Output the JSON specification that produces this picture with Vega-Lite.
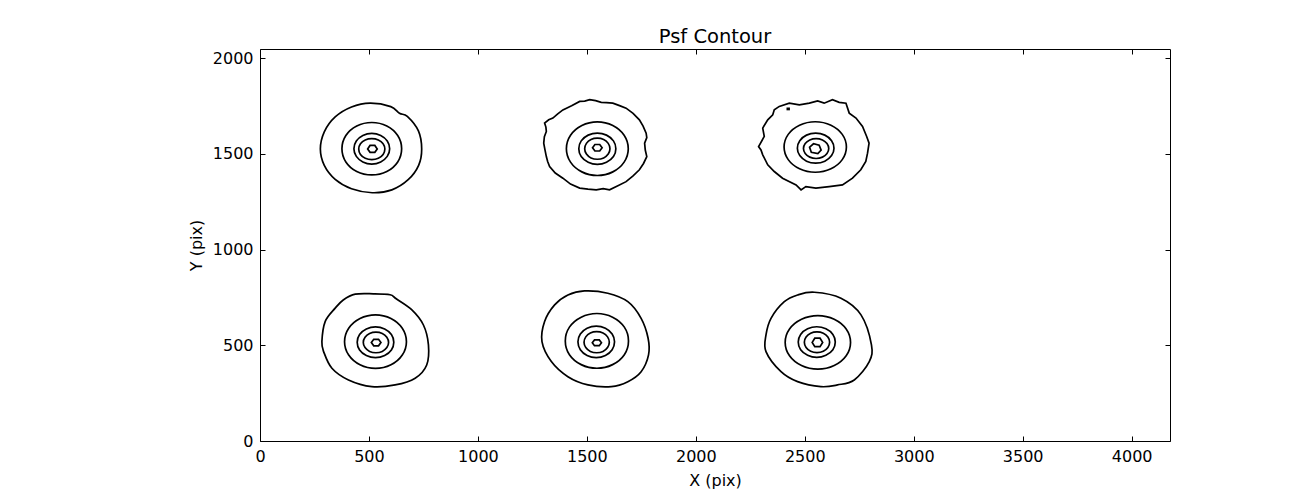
{
"$schema": "https://vega.github.io/schema/vega-lite/v6.json",
"autosize": "none",
"width": 910,
"height": 392,
"padding": {"left": 260, "top": 49, "right": 130, "bottom": 49},
"background": "white",
"title": {"text": "Psf Contour", "fontSize": 19.5, "font": "DejaVu Sans", "fontWeight": "normal", "color": "black", "offset": 1, "anchor": "middle", "frame": "group"},
"config": {
  "view": {"stroke": "black", "strokeWidth": 1},
  "axis": {"domain": false, "grid": false, "tickColor": "black", "tickSize": -5, "tickWidth": 1, "labelFlush": false, "labelFont": "DejaVu Sans", "labelFontSize": 16, "labelColor": "black", "titleFont": "DejaVu Sans", "titleFontSize": 16, "titleFontWeight": "normal", "titleColor": "black", "format": "d"}
},
"data": {"values": [
{"c":"a1","k":"s","i":0,"x":742,"y":1525},{"c":"a1","k":"s","i":1,"x":727,"y":1620},{"c":"a1","k":"s","i":2,"x":676,"y":1696},{"c":"a1","k":"s","i":3,"x":640,"y":1712},{"c":"a1","k":"s","i":4,"x":600,"y":1747},{"c":"a1","k":"s","i":5,"x":505,"y":1765},{"c":"a1","k":"s","i":6,"x":420,"y":1745},{"c":"a1","k":"s","i":7,"x":345,"y":1693},{"c":"a1","k":"s","i":8,"x":295,"y":1615},{"c":"a1","k":"s","i":9,"x":277,"y":1525},{"c":"a1","k":"s","i":10,"x":295,"y":1440},{"c":"a1","k":"s","i":11,"x":345,"y":1367},{"c":"a1","k":"s","i":12,"x":420,"y":1318},{"c":"a1","k":"s","i":13,"x":515,"y":1297},{"c":"a1","k":"s","i":14,"x":605,"y":1312},{"c":"a1","k":"s","i":15,"x":680,"y":1365},{"c":"a1","k":"s","i":16,"x":728,"y":1440},
{"c":"a2","k":"s","i":0,"x":650,"y":1527},{"c":"a2","k":"s","i":1,"x":632,"y":1596},{"c":"a2","k":"s","i":2,"x":582,"y":1646},{"c":"a2","k":"s","i":3,"x":513,"y":1664},{"c":"a2","k":"s","i":4,"x":444,"y":1646},{"c":"a2","k":"s","i":5,"x":394,"y":1596},{"c":"a2","k":"s","i":6,"x":376,"y":1527},{"c":"a2","k":"s","i":7,"x":394,"y":1458},{"c":"a2","k":"s","i":8,"x":444,"y":1408},{"c":"a2","k":"s","i":9,"x":513,"y":1390},{"c":"a2","k":"s","i":10,"x":582,"y":1408},{"c":"a2","k":"s","i":11,"x":632,"y":1458},
{"c":"a3","k":"s","i":0,"x":595,"y":1527},{"c":"a3","k":"s","i":1,"x":584,"y":1567},{"c":"a3","k":"s","i":2,"x":554,"y":1596},{"c":"a3","k":"s","i":3,"x":513,"y":1607},{"c":"a3","k":"s","i":4,"x":472,"y":1596},{"c":"a3","k":"s","i":5,"x":442,"y":1567},{"c":"a3","k":"s","i":6,"x":431,"y":1527},{"c":"a3","k":"s","i":7,"x":442,"y":1487},{"c":"a3","k":"s","i":8,"x":472,"y":1458},{"c":"a3","k":"s","i":9,"x":513,"y":1447},{"c":"a3","k":"s","i":10,"x":554,"y":1458},{"c":"a3","k":"s","i":11,"x":584,"y":1487},
{"c":"a4","k":"s","i":0,"x":573,"y":1525},{"c":"a4","k":"s","i":1,"x":565,"y":1553},{"c":"a4","k":"s","i":2,"x":543,"y":1573},{"c":"a4","k":"s","i":3,"x":513,"y":1580},{"c":"a4","k":"s","i":4,"x":483,"y":1573},{"c":"a4","k":"s","i":5,"x":461,"y":1553},{"c":"a4","k":"s","i":6,"x":453,"y":1525},{"c":"a4","k":"s","i":7,"x":461,"y":1497},{"c":"a4","k":"s","i":8,"x":483,"y":1477},{"c":"a4","k":"s","i":9,"x":513,"y":1470},{"c":"a4","k":"s","i":10,"x":543,"y":1477},{"c":"a4","k":"s","i":11,"x":565,"y":1497},
{"c":"a5","k":"r","i":0,"x":538,"y":1526},{"c":"a5","k":"r","i":1,"x":527,"y":1544},{"c":"a5","k":"r","i":2,"x":505,"y":1544},{"c":"a5","k":"r","i":3,"x":494,"y":1526},{"c":"a5","k":"r","i":4,"x":505,"y":1508},{"c":"a5","k":"r","i":5,"x":527,"y":1508},
{"c":"b1","k":"r","i":0,"x":1775,"y":1486},{"c":"b1","k":"r","i":1,"x":1768,"y":1520},{"c":"b1","k":"r","i":2,"x":1765,"y":1556},{"c":"b1","k":"r","i":3,"x":1775,"y":1585},{"c":"b1","k":"r","i":4,"x":1772,"y":1608},{"c":"b1","k":"r","i":5,"x":1758,"y":1645},{"c":"b1","k":"r","i":6,"x":1741,"y":1678},{"c":"b1","k":"r","i":7,"x":1712,"y":1712},{"c":"b1","k":"r","i":8,"x":1680,"y":1739},{"c":"b1","k":"r","i":9,"x":1650,"y":1752},{"c":"b1","k":"r","i":10,"x":1619,"y":1765},{"c":"b1","k":"r","i":11,"x":1590,"y":1768},{"c":"b1","k":"r","i":12,"x":1566,"y":1769},{"c":"b1","k":"r","i":13,"x":1540,"y":1778},{"c":"b1","k":"r","i":14,"x":1513,"y":1783},{"c":"b1","k":"r","i":15,"x":1490,"y":1776},{"c":"b1","k":"r","i":16,"x":1467,"y":1774},{"c":"b1","k":"r","i":17,"x":1430,"y":1752},{"c":"b1","k":"r","i":18,"x":1390,"y":1730},{"c":"b1","k":"r","i":19,"x":1365,"y":1708},{"c":"b1","k":"r","i":20,"x":1344,"y":1687},{"c":"b1","k":"r","i":21,"x":1325,"y":1678},{"c":"b1","k":"r","i":22,"x":1306,"y":1661},{"c":"b1","k":"r","i":23,"x":1312,"y":1640},{"c":"b1","k":"r","i":24,"x":1314,"y":1617},{"c":"b1","k":"r","i":25,"x":1305,"y":1590},{"c":"b1","k":"r","i":26,"x":1302,"y":1556},{"c":"b1","k":"r","i":27,"x":1308,"y":1520},{"c":"b1","k":"r","i":28,"x":1314,"y":1486},{"c":"b1","k":"r","i":29,"x":1320,"y":1460},{"c":"b1","k":"r","i":30,"x":1329,"y":1434},{"c":"b1","k":"r","i":31,"x":1355,"y":1400},{"c":"b1","k":"r","i":32,"x":1390,"y":1373},{"c":"b1","k":"r","i":33,"x":1425,"y":1342},{"c":"b1","k":"r","i":34,"x":1467,"y":1321},{"c":"b1","k":"r","i":35,"x":1505,"y":1316},{"c":"b1","k":"r","i":36,"x":1543,"y":1312},{"c":"b1","k":"r","i":37,"x":1575,"y":1318},{"c":"b1","k":"r","i":38,"x":1604,"y":1312},{"c":"b1","k":"r","i":39,"x":1640,"y":1332},{"c":"b1","k":"r","i":40,"x":1680,"y":1355},{"c":"b1","k":"r","i":41,"x":1712,"y":1385},{"c":"b1","k":"r","i":42,"x":1741,"y":1417},{"c":"b1","k":"r","i":43,"x":1760,"y":1450},
{"c":"b2","k":"s","i":0,"x":1690,"y":1527},{"c":"b2","k":"s","i":1,"x":1671,"y":1597},{"c":"b2","k":"s","i":2,"x":1619,"y":1648},{"c":"b2","k":"s","i":3,"x":1548,"y":1667},{"c":"b2","k":"s","i":4,"x":1477,"y":1648},{"c":"b2","k":"s","i":5,"x":1425,"y":1597},{"c":"b2","k":"s","i":6,"x":1406,"y":1527},{"c":"b2","k":"s","i":7,"x":1425,"y":1457},{"c":"b2","k":"s","i":8,"x":1477,"y":1406},{"c":"b2","k":"s","i":9,"x":1548,"y":1387},{"c":"b2","k":"s","i":10,"x":1619,"y":1406},{"c":"b2","k":"s","i":11,"x":1671,"y":1457},
{"c":"b3","k":"s","i":0,"x":1633,"y":1527},{"c":"b3","k":"s","i":1,"x":1622,"y":1568},{"c":"b3","k":"s","i":2,"x":1590,"y":1598},{"c":"b3","k":"s","i":3,"x":1548,"y":1609},{"c":"b3","k":"s","i":4,"x":1506,"y":1598},{"c":"b3","k":"s","i":5,"x":1474,"y":1568},{"c":"b3","k":"s","i":6,"x":1463,"y":1527},{"c":"b3","k":"s","i":7,"x":1474,"y":1486},{"c":"b3","k":"s","i":8,"x":1506,"y":1456},{"c":"b3","k":"s","i":9,"x":1548,"y":1445},{"c":"b3","k":"s","i":10,"x":1590,"y":1456},{"c":"b3","k":"s","i":11,"x":1622,"y":1486},
{"c":"b4","k":"s","i":0,"x":1606,"y":1527},{"c":"b4","k":"s","i":1,"x":1598,"y":1555},{"c":"b4","k":"s","i":2,"x":1577,"y":1575},{"c":"b4","k":"s","i":3,"x":1548,"y":1582},{"c":"b4","k":"s","i":4,"x":1519,"y":1575},{"c":"b4","k":"s","i":5,"x":1498,"y":1555},{"c":"b4","k":"s","i":6,"x":1490,"y":1527},{"c":"b4","k":"s","i":7,"x":1498,"y":1499},{"c":"b4","k":"s","i":8,"x":1519,"y":1479},{"c":"b4","k":"s","i":9,"x":1548,"y":1472},{"c":"b4","k":"s","i":10,"x":1577,"y":1479},{"c":"b4","k":"s","i":11,"x":1598,"y":1499},
{"c":"b5","k":"r","i":0,"x":1570,"y":1532},{"c":"b5","k":"r","i":1,"x":1559,"y":1549},{"c":"b5","k":"r","i":2,"x":1537,"y":1549},{"c":"b5","k":"r","i":3,"x":1526,"y":1532},{"c":"b5","k":"r","i":4,"x":1537,"y":1515},{"c":"b5","k":"r","i":5,"x":1559,"y":1515},
{"c":"c1","k":"r","i":0,"x":2288,"y":1538},{"c":"c1","k":"r","i":1,"x":2314,"y":1591},{"c":"c1","k":"r","i":2,"x":2307,"y":1635},{"c":"c1","k":"r","i":3,"x":2330,"y":1678},{"c":"c1","k":"r","i":4,"x":2353,"y":1704},{"c":"c1","k":"r","i":5,"x":2360,"y":1730},{"c":"c1","k":"r","i":6,"x":2383,"y":1748},{"c":"c1","k":"r","i":7,"x":2429,"y":1765},{"c":"c1","k":"r","i":8,"x":2475,"y":1756},{"c":"c1","k":"r","i":9,"x":2521,"y":1765},{"c":"c1","k":"r","i":10,"x":2559,"y":1777},{"c":"c1","k":"r","i":11,"x":2589,"y":1765},{"c":"c1","k":"r","i":12,"x":2627,"y":1783},{"c":"c1","k":"r","i":13,"x":2658,"y":1769},{"c":"c1","k":"r","i":14,"x":2689,"y":1765},{"c":"c1","k":"r","i":15,"x":2704,"y":1713},{"c":"c1","k":"r","i":16,"x":2735,"y":1687},{"c":"c1","k":"r","i":17,"x":2765,"y":1643},{"c":"c1","k":"r","i":18,"x":2784,"y":1591},{"c":"c1","k":"r","i":19,"x":2795,"y":1556},{"c":"c1","k":"r","i":20,"x":2788,"y":1504},{"c":"c1","k":"r","i":21,"x":2780,"y":1460},{"c":"c1","k":"r","i":22,"x":2757,"y":1417},{"c":"c1","k":"r","i":23,"x":2719,"y":1373},{"c":"c1","k":"r","i":24,"x":2673,"y":1338},{"c":"c1","k":"r","i":25,"x":2612,"y":1329},{"c":"c1","k":"r","i":26,"x":2551,"y":1321},{"c":"c1","k":"r","i":27,"x":2505,"y":1329},{"c":"c1","k":"r","i":28,"x":2483,"y":1312},{"c":"c1","k":"r","i":29,"x":2460,"y":1338},{"c":"c1","k":"r","i":30,"x":2398,"y":1373},{"c":"c1","k":"r","i":31,"x":2360,"y":1408},{"c":"c1","k":"r","i":32,"x":2330,"y":1443},{"c":"c1","k":"r","i":33,"x":2307,"y":1495},{"c":"c1","k":"r","i":34,"x":2299,"y":1521},
{"c":"c2","k":"s","i":0,"x":2691,"y":1536},{"c":"c2","k":"s","i":1,"x":2672,"y":1602},{"c":"c2","k":"s","i":2,"x":2620,"y":1650},{"c":"c2","k":"s","i":3,"x":2548,"y":1668},{"c":"c2","k":"s","i":4,"x":2476,"y":1650},{"c":"c2","k":"s","i":5,"x":2424,"y":1602},{"c":"c2","k":"s","i":6,"x":2405,"y":1536},{"c":"c2","k":"s","i":7,"x":2424,"y":1470},{"c":"c2","k":"s","i":8,"x":2476,"y":1422},{"c":"c2","k":"s","i":9,"x":2548,"y":1404},{"c":"c2","k":"s","i":10,"x":2620,"y":1422},{"c":"c2","k":"s","i":11,"x":2672,"y":1470},
{"c":"c3","k":"s","i":0,"x":2634,"y":1530},{"c":"c3","k":"s","i":1,"x":2623,"y":1569},{"c":"c3","k":"s","i":2,"x":2592,"y":1598},{"c":"c3","k":"s","i":3,"x":2550,"y":1608},{"c":"c3","k":"s","i":4,"x":2508,"y":1598},{"c":"c3","k":"s","i":5,"x":2477,"y":1569},{"c":"c3","k":"s","i":6,"x":2466,"y":1530},{"c":"c3","k":"s","i":7,"x":2477,"y":1491},{"c":"c3","k":"s","i":8,"x":2508,"y":1462},{"c":"c3","k":"s","i":9,"x":2550,"y":1452},{"c":"c3","k":"s","i":10,"x":2592,"y":1462},{"c":"c3","k":"s","i":11,"x":2623,"y":1491},
{"c":"c4","k":"s","i":0,"x":2610,"y":1528},{"c":"c4","k":"s","i":1,"x":2602,"y":1554},{"c":"c4","k":"s","i":2,"x":2581,"y":1573},{"c":"c4","k":"s","i":3,"x":2552,"y":1580},{"c":"c4","k":"s","i":4,"x":2523,"y":1573},{"c":"c4","k":"s","i":5,"x":2502,"y":1554},{"c":"c4","k":"s","i":6,"x":2494,"y":1528},{"c":"c4","k":"s","i":7,"x":2502,"y":1502},{"c":"c4","k":"s","i":8,"x":2523,"y":1483},{"c":"c4","k":"s","i":9,"x":2552,"y":1476},{"c":"c4","k":"s","i":10,"x":2581,"y":1483},{"c":"c4","k":"s","i":11,"x":2602,"y":1502},
{"c":"c5","k":"r","i":0,"x":2575,"y":1520},{"c":"c5","k":"r","i":1,"x":2566,"y":1545},{"c":"c5","k":"r","i":2,"x":2540,"y":1553},{"c":"c5","k":"r","i":3,"x":2522,"y":1535},{"c":"c5","k":"r","i":4,"x":2530,"y":1508},{"c":"c5","k":"r","i":5,"x":2560,"y":1502},
{"c":"c6","k":"r","i":0,"x":2420,"y":1732},{"c":"c6","k":"r","i":1,"x":2428,"y":1732},{"c":"c6","k":"r","i":2,"x":2428,"y":1738},{"c":"c6","k":"r","i":3,"x":2420,"y":1738},
{"c":"d1","k":"s","i":0,"x":773,"y":502},{"c":"d1","k":"s","i":1,"x":750,"y":606},{"c":"d1","k":"s","i":2,"x":697,"y":685},{"c":"d1","k":"s","i":3,"x":625,"y":743},{"c":"d1","k":"s","i":4,"x":597,"y":764},{"c":"d1","k":"s","i":5,"x":520,"y":769},{"c":"d1","k":"s","i":6,"x":437,"y":767},{"c":"d1","k":"s","i":7,"x":382,"y":737},{"c":"d1","k":"s","i":8,"x":345,"y":694},{"c":"d1","k":"s","i":9,"x":299,"y":624},{"c":"d1","k":"s","i":10,"x":284,"y":519},{"c":"d1","k":"s","i":11,"x":292,"y":467},{"c":"d1","k":"s","i":12,"x":330,"y":380},{"c":"d1","k":"s","i":13,"x":406,"y":319},{"c":"d1","k":"s","i":14,"x":513,"y":284},{"c":"d1","k":"s","i":15,"x":620,"y":293},{"c":"d1","k":"s","i":16,"x":712,"y":328},{"c":"d1","k":"s","i":17,"x":765,"y":397},
{"c":"d2","k":"s","i":0,"x":672,"y":519},{"c":"d2","k":"s","i":1,"x":653,"y":589},{"c":"d2","k":"s","i":2,"x":601,"y":640},{"c":"d2","k":"s","i":3,"x":530,"y":659},{"c":"d2","k":"s","i":4,"x":459,"y":640},{"c":"d2","k":"s","i":5,"x":407,"y":589},{"c":"d2","k":"s","i":6,"x":388,"y":519},{"c":"d2","k":"s","i":7,"x":407,"y":449},{"c":"d2","k":"s","i":8,"x":459,"y":398},{"c":"d2","k":"s","i":9,"x":530,"y":379},{"c":"d2","k":"s","i":10,"x":601,"y":398},{"c":"d2","k":"s","i":11,"x":653,"y":449},
{"c":"d3","k":"s","i":0,"x":614,"y":516},{"c":"d3","k":"s","i":1,"x":603,"y":556},{"c":"d3","k":"s","i":2,"x":572,"y":585},{"c":"d3","k":"s","i":3,"x":530,"y":596},{"c":"d3","k":"s","i":4,"x":488,"y":585},{"c":"d3","k":"s","i":5,"x":457,"y":556},{"c":"d3","k":"s","i":6,"x":446,"y":516},{"c":"d3","k":"s","i":7,"x":457,"y":476},{"c":"d3","k":"s","i":8,"x":488,"y":447},{"c":"d3","k":"s","i":9,"x":530,"y":436},{"c":"d3","k":"s","i":10,"x":572,"y":447},{"c":"d3","k":"s","i":11,"x":603,"y":476},
{"c":"d4","k":"s","i":0,"x":590,"y":515},{"c":"d4","k":"s","i":1,"x":582,"y":542},{"c":"d4","k":"s","i":2,"x":561,"y":562},{"c":"d4","k":"s","i":3,"x":532,"y":569},{"c":"d4","k":"s","i":4,"x":503,"y":562},{"c":"d4","k":"s","i":5,"x":482,"y":542},{"c":"d4","k":"s","i":6,"x":474,"y":515},{"c":"d4","k":"s","i":7,"x":482,"y":488},{"c":"d4","k":"s","i":8,"x":503,"y":468},{"c":"d4","k":"s","i":9,"x":532,"y":461},{"c":"d4","k":"s","i":10,"x":561,"y":468},{"c":"d4","k":"s","i":11,"x":582,"y":488},
{"c":"d5","k":"r","i":0,"x":555,"y":514},{"c":"d5","k":"r","i":1,"x":544,"y":531},{"c":"d5","k":"r","i":2,"x":522,"y":531},{"c":"d5","k":"r","i":3,"x":511,"y":514},{"c":"d5","k":"r","i":4,"x":522,"y":497},{"c":"d5","k":"r","i":5,"x":544,"y":497},
{"c":"e1","k":"s","i":0,"x":1783,"y":450},{"c":"e1","k":"s","i":1,"x":1781,"y":537},{"c":"e1","k":"s","i":2,"x":1749,"y":641},{"c":"e1","k":"s","i":3,"x":1688,"y":728},{"c":"e1","k":"s","i":4,"x":1596,"y":772},{"c":"e1","k":"s","i":5,"x":1489,"y":784},{"c":"e1","k":"s","i":6,"x":1413,"y":763},{"c":"e1","k":"s","i":7,"x":1352,"y":711},{"c":"e1","k":"s","i":8,"x":1306,"y":624},{"c":"e1","k":"s","i":9,"x":1294,"y":519},{"c":"e1","k":"s","i":10,"x":1337,"y":415},{"c":"e1","k":"s","i":11,"x":1413,"y":336},{"c":"e1","k":"s","i":12,"x":1505,"y":293},{"c":"e1","k":"s","i":13,"x":1612,"y":284},{"c":"e1","k":"s","i":14,"x":1688,"y":310},{"c":"e1","k":"s","i":15,"x":1749,"y":362},
{"c":"e2","k":"s","i":0,"x":1691,"y":523},{"c":"e2","k":"s","i":1,"x":1672,"y":595},{"c":"e2","k":"s","i":2,"x":1618,"y":647},{"c":"e2","k":"s","i":3,"x":1546,"y":666},{"c":"e2","k":"s","i":4,"x":1474,"y":647},{"c":"e2","k":"s","i":5,"x":1420,"y":595},{"c":"e2","k":"s","i":6,"x":1401,"y":523},{"c":"e2","k":"s","i":7,"x":1420,"y":451},{"c":"e2","k":"s","i":8,"x":1474,"y":399},{"c":"e2","k":"s","i":9,"x":1546,"y":380},{"c":"e2","k":"s","i":10,"x":1618,"y":399},{"c":"e2","k":"s","i":11,"x":1672,"y":451},
{"c":"e3","k":"s","i":0,"x":1627,"y":518},{"c":"e3","k":"s","i":1,"x":1616,"y":559},{"c":"e3","k":"s","i":2,"x":1585,"y":589},{"c":"e3","k":"s","i":3,"x":1543,"y":600},{"c":"e3","k":"s","i":4,"x":1501,"y":589},{"c":"e3","k":"s","i":5,"x":1470,"y":559},{"c":"e3","k":"s","i":6,"x":1459,"y":518},{"c":"e3","k":"s","i":7,"x":1470,"y":477},{"c":"e3","k":"s","i":8,"x":1501,"y":447},{"c":"e3","k":"s","i":9,"x":1543,"y":436},{"c":"e3","k":"s","i":10,"x":1585,"y":447},{"c":"e3","k":"s","i":11,"x":1616,"y":477},
{"c":"e4","k":"s","i":0,"x":1603,"y":516},{"c":"e4","k":"s","i":1,"x":1595,"y":544},{"c":"e4","k":"s","i":2,"x":1574,"y":564},{"c":"e4","k":"s","i":3,"x":1545,"y":571},{"c":"e4","k":"s","i":4,"x":1516,"y":564},{"c":"e4","k":"s","i":5,"x":1495,"y":544},{"c":"e4","k":"s","i":6,"x":1487,"y":516},{"c":"e4","k":"s","i":7,"x":1495,"y":488},{"c":"e4","k":"s","i":8,"x":1516,"y":468},{"c":"e4","k":"s","i":9,"x":1545,"y":461},{"c":"e4","k":"s","i":10,"x":1574,"y":468},{"c":"e4","k":"s","i":11,"x":1595,"y":488},
{"c":"e5","k":"r","i":0,"x":1567,"y":513},{"c":"e5","k":"r","i":1,"x":1557,"y":528},{"c":"e5","k":"r","i":2,"x":1535,"y":528},{"c":"e5","k":"r","i":3,"x":1525,"y":513},{"c":"e5","k":"r","i":4,"x":1535,"y":498},{"c":"e5","k":"r","i":5,"x":1557,"y":498},
{"c":"f1","k":"s","i":0,"x":2806,"y":502},{"c":"f1","k":"s","i":1,"x":2758,"y":659},{"c":"f1","k":"s","i":2,"x":2666,"y":746},{"c":"f1","k":"s","i":3,"x":2544,"y":777},{"c":"f1","k":"s","i":4,"x":2467,"y":763},{"c":"f1","k":"s","i":5,"x":2406,"y":728},{"c":"f1","k":"s","i":6,"x":2345,"y":641},{"c":"f1","k":"s","i":7,"x":2322,"y":554},{"c":"f1","k":"s","i":8,"x":2322,"y":467},{"c":"f1","k":"s","i":9,"x":2391,"y":362},{"c":"f1","k":"s","i":10,"x":2467,"y":310},{"c":"f1","k":"s","i":11,"x":2574,"y":284},{"c":"f1","k":"s","i":12,"x":2650,"y":293},{"c":"f1","k":"s","i":13,"x":2727,"y":319},{"c":"f1","k":"s","i":14,"x":2796,"y":415},
{"c":"f2","k":"s","i":0,"x":2710,"y":515},{"c":"f2","k":"s","i":1,"x":2690,"y":585},{"c":"f2","k":"s","i":2,"x":2635,"y":636},{"c":"f2","k":"s","i":3,"x":2560,"y":655},{"c":"f2","k":"s","i":4,"x":2485,"y":636},{"c":"f2","k":"s","i":5,"x":2430,"y":585},{"c":"f2","k":"s","i":6,"x":2410,"y":515},{"c":"f2","k":"s","i":7,"x":2430,"y":445},{"c":"f2","k":"s","i":8,"x":2485,"y":394},{"c":"f2","k":"s","i":9,"x":2560,"y":375},{"c":"f2","k":"s","i":10,"x":2635,"y":394},{"c":"f2","k":"s","i":11,"x":2690,"y":445},
{"c":"f3","k":"s","i":0,"x":2640,"y":517},{"c":"f3","k":"s","i":1,"x":2629,"y":557},{"c":"f3","k":"s","i":2,"x":2597,"y":586},{"c":"f3","k":"s","i":3,"x":2555,"y":597},{"c":"f3","k":"s","i":4,"x":2513,"y":586},{"c":"f3","k":"s","i":5,"x":2481,"y":557},{"c":"f3","k":"s","i":6,"x":2470,"y":517},{"c":"f3","k":"s","i":7,"x":2481,"y":477},{"c":"f3","k":"s","i":8,"x":2513,"y":448},{"c":"f3","k":"s","i":9,"x":2555,"y":437},{"c":"f3","k":"s","i":10,"x":2597,"y":448},{"c":"f3","k":"s","i":11,"x":2629,"y":477},
{"c":"f4","k":"s","i":0,"x":2614,"y":516},{"c":"f4","k":"s","i":1,"x":2606,"y":543},{"c":"f4","k":"s","i":2,"x":2585,"y":563},{"c":"f4","k":"s","i":3,"x":2556,"y":570},{"c":"f4","k":"s","i":4,"x":2527,"y":563},{"c":"f4","k":"s","i":5,"x":2506,"y":543},{"c":"f4","k":"s","i":6,"x":2498,"y":516},{"c":"f4","k":"s","i":7,"x":2506,"y":489},{"c":"f4","k":"s","i":8,"x":2527,"y":469},{"c":"f4","k":"s","i":9,"x":2556,"y":462},{"c":"f4","k":"s","i":10,"x":2585,"y":469},{"c":"f4","k":"s","i":11,"x":2606,"y":489},
{"c":"f5","k":"r","i":0,"x":2582,"y":515},{"c":"f5","k":"r","i":1,"x":2570,"y":537},{"c":"f5","k":"r","i":2,"x":2546,"y":537},{"c":"f5","k":"r","i":3,"x":2534,"y":515},{"c":"f5","k":"r","i":4,"x":2546,"y":493},{"c":"f5","k":"r","i":5,"x":2570,"y":493}
]},
"layer": [
  {
    "transform": [{"filter": "datum.k == 's'"}],
    "mark": {"type": "line", "interpolate": "cardinal-closed", "color": "black", "strokeWidth": 1.7},
    "encoding": {
      "x": {"field": "x", "type": "quantitative", "scale": {"domain": [0, 4176], "nice": false, "zero": false}, "axis": {"orient": "bottom", "title": "X (pix)", "values": [0,500,1000,1500,2000,2500,3000,3500,4000], "labelPadding": 12, "titlePadding": 8}},
      "y": {"field": "y", "type": "quantitative", "scale": {"domain": [0, 2048], "nice": false, "zero": false}, "axis": {"orient": "left", "title": "Y (pix)", "values": [0,500,1000,1500,2000], "labelPadding": 12, "titlePadding": 8}},
      "detail": {"field": "c"},
      "order": {"field": "i", "type": "quantitative"}
    }
  },
  {
    "transform": [{"filter": "datum.k == 'r'"}],
    "mark": {"type": "line", "interpolate": "linear-closed", "color": "black", "strokeWidth": 1.7},
    "encoding": {
      "x": {"field": "x", "type": "quantitative", "scale": {"domain": [0, 4176], "nice": false, "zero": false}, "axis": {"orient": "top", "title": null, "labels": false, "values": [0,500,1000,1500,2000,2500,3000,3500,4000]}},
      "y": {"field": "y", "type": "quantitative", "scale": {"domain": [0, 2048], "nice": false, "zero": false}, "axis": {"orient": "right", "title": null, "labels": false, "values": [0,500,1000,1500,2000]}},
      "detail": {"field": "c"},
      "order": {"field": "i", "type": "quantitative"}
    }
  }
],
"resolve": {"axis": {"x": "independent", "y": "independent"}}
}
